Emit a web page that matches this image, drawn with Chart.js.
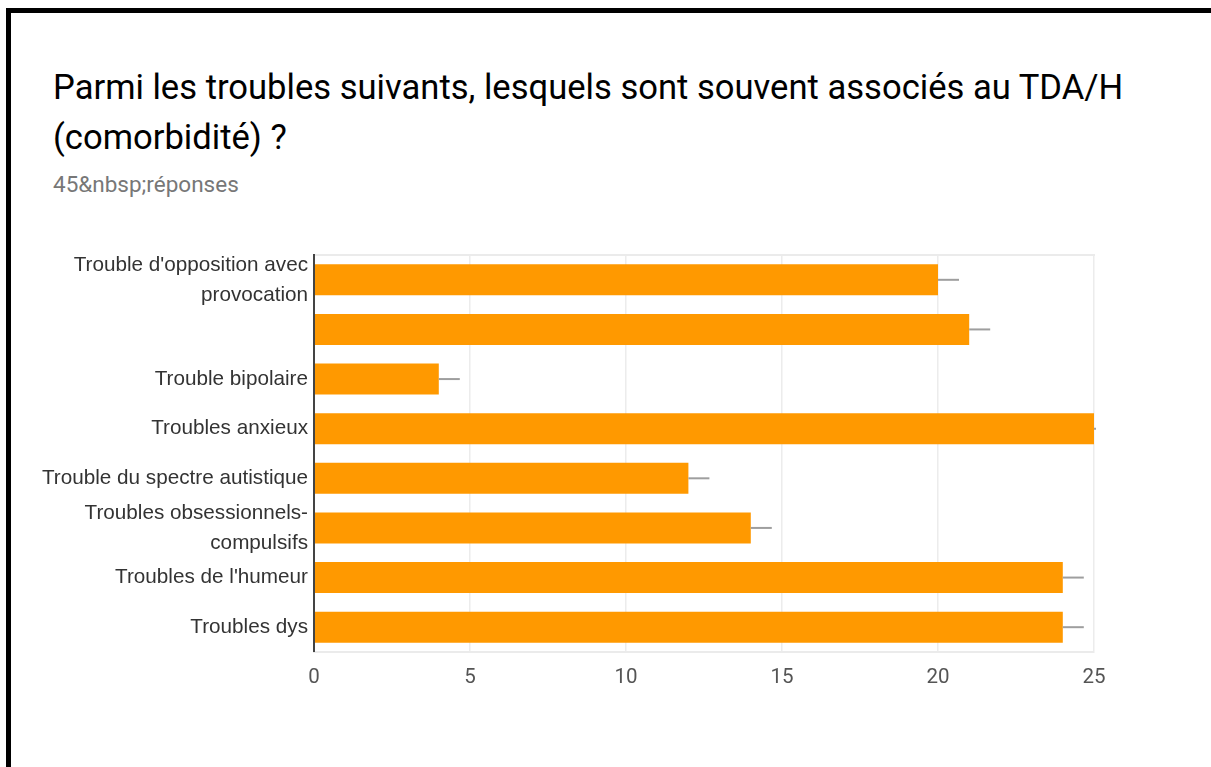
<!DOCTYPE html>
<html><head><meta charset="utf-8">
<script src="https://cdn.jsdelivr.net/npm/chart.js@4"></script>
<style>
html,body{margin:0;padding:0;background:#fff;}
body{width:1211px;height:767px;position:relative;overflow:hidden;}
#frame{position:absolute;left:6px;top:8px;width:1215px;height:780px;border-left:5px solid #000;border-top:5px solid #000;box-sizing:border-box;}
#title{position:absolute;left:53px;top:62px;font-family:Roboto,sans-serif;font-size:34.6px;line-height:50px;color:#000;}
#sub{position:absolute;left:53px;top:171px;font-family:Roboto,sans-serif;font-size:22.5px;color:#777;}
#wrap{position:absolute;left:0;top:240px;width:1211px;height:480px;}
</style></head><body>
<div id="frame"></div>
<div id="title">Parmi les troubles suivants, lesquels sont souvent associés au TDA/H<br>(comorbidité) ?</div>
<div id="sub">45&amp;nbsp;réponses</div>
<div id="wrap"><canvas id="c" width="1211" height="480"></canvas></div>
<script>
const categories = [
  ["Trouble d'opposition avec", "provocation"],
  "",
  "Trouble bipolaire",
  "Troubles anxieux",
  "Trouble du spectre autistique",
  ["Troubles obsessionnels-", "compulsifs"],
  "Troubles de l'humeur",
  "Troubles dys"
];
const counts = [20, 21, 4, 25, 12, 14, 24, 24];
const xTicks = [0, 5, 10, 15, 20, 25];

const whiskerPlugin = {
  id: 'whisker',
  afterDatasetsDraw(chart) {
    const ctx = chart.ctx;
    const meta = chart.getDatasetMeta(0);
    const area = chart.chartArea;
    ctx.save();
    ctx.beginPath();
    ctx.rect(area.left, area.top, area.right - area.left + 2, area.bottom - area.top);
    ctx.clip();
    ctx.strokeStyle = '#9e9e9e';
    ctx.lineWidth = 2;
    meta.data.forEach(bar => {
      ctx.beginPath();
      ctx.moveTo(bar.x, bar.y);
      ctx.lineTo(bar.x + 21, bar.y);
      ctx.stroke();
    });
    ctx.restore();
  },
  beforeDatasetsDraw(chart) {
    const ctx = chart.ctx, a = chart.chartArea;
    ctx.save();
    ctx.strokeStyle = '#ebebeb';
    ctx.lineWidth = 2;
    ctx.beginPath();
    ctx.moveTo(a.left, a.top);
    ctx.lineTo(a.right + 1, a.top);
    ctx.stroke();
    ctx.restore();
  },
  afterDraw(chart) {
    const ctx = chart.ctx, a = chart.chartArea;
    ctx.save();
    ctx.strokeStyle = '#444';
    ctx.lineWidth = 2;
    ctx.beginPath();
    ctx.moveTo(a.left, a.top - 1);
    ctx.lineTo(a.left, a.bottom);
    ctx.stroke();
    ctx.restore();
  }
};

new Chart(document.getElementById('c'), {
  type: 'bar',
  data: {
    labels: categories,
    datasets: [{
      data: counts,
      backgroundColor: '#ff9900',
      borderWidth: 0,
      categoryPercentage: 1,
      barPercentage: 0.625
    }]
  },
  options: {
    indexAxis: 'y',
    responsive: false,
    animation: false,
    devicePixelRatio: 1,
    layout: { padding: { left: 0, right: 117, top: 15, bottom: 0 } },
    plugins: { legend: { display: false }, tooltip: { enabled: false } },
    scales: {
      x: {
        min: 0, max: 25,
        afterBuildTicks: s => { s.ticks = xTicks.map(v => ({ value: v })); },
        afterFit: s => { s.height = 68; },
        grid: { color: '#ececec', lineWidth: 1.5, drawTicks: false },
        border: { color: '#ebebeb', width: 2 },
        ticks: { padding: 14, color: '#555', font: { family: 'Roboto, sans-serif', size: 20.5 } }
      },
      y: {
        afterFit: s => { s.width = 314; s.paddingTop = 0; s.paddingBottom = 0; },
        grid: { display: false, drawTicks: false },
        border: { display: false },
        ticks: { autoSkip: false, padding: 6, color: '#333', font: { family: '"Liberation Sans", Arial, sans-serif', size: 20.7, lineHeight: 1.45 } }
      }
    }
  },
  plugins: [whiskerPlugin]
});
</script>
</body></html>
